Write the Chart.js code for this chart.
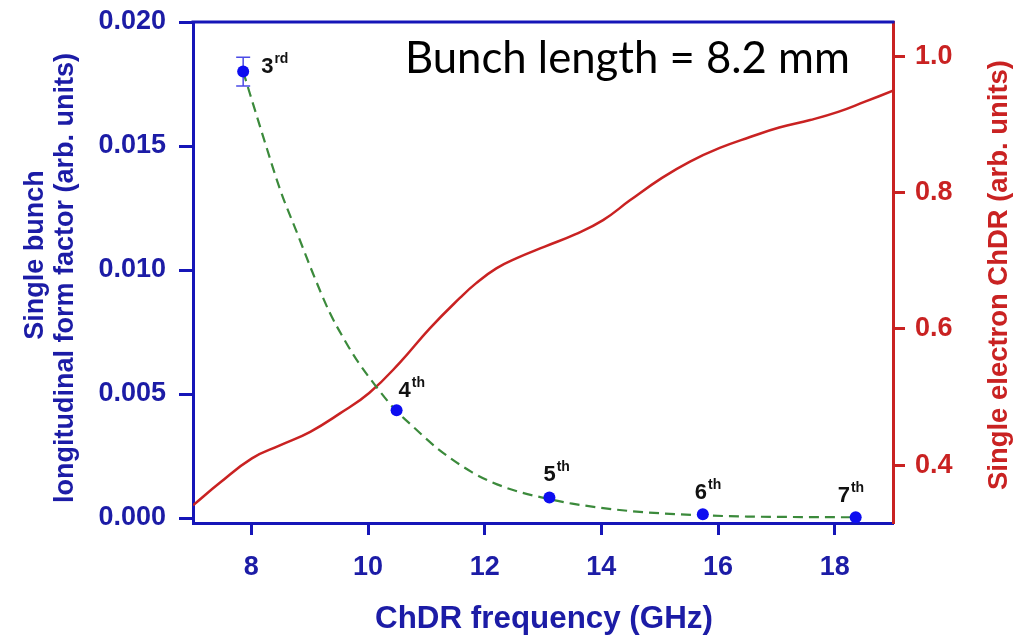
<!DOCTYPE html>
<html><head><meta charset="utf-8">
<script src="https://cdn.jsdelivr.net/npm/chart.js@4/dist/chart.umd.min.js"></script>
<style>html,body{margin:0;padding:0;background:#fff;overflow:hidden}#wrap{width:1018px;height:639px}</style>
</head><body><div id="wrap"><canvas id="c" width="1018" height="639"></canvas></div>
<script>
// ---- data ----
const xTicks = [8, 10, 12, 14, 16, 18];
const leftTicks = [0, 0.005, 0.010, 0.015, 0.020];
const rightTicks = [0.4, 0.6, 0.8, 1.0];
const harmonicNumbers = ['3', '4', '5', '6', '7'];
const harmonicSuffixes = ['rd', 'th', 'th', 'th', 'th'];
const harmonicFreq = [7.86, 10.49, 13.11, 15.74, 18.36];
const formFactor = [0.0180, 0.00435, 0.00083, 0.00015, 0.00003];
const formFactorErr = [0.00058, 0, 0, 0, 0];
const fitFreq = [7.86, 8.2, 8.5, 8.8, 9.05, 9.34, 9.63, 9.8, 10.14, 10.49, 10.65, 11.22, 11.78, 12.07, 12.5, 13.11, 13.5, 14.5, 15.74, 16.5, 17.5, 18.36];
const fitValue = [0.0180, 0.01540, 0.01320, 0.01140, 0.00990, 0.00830, 0.00705, 0.00640, 0.00530, 0.00430, 0.00395, 0.00275, 0.00185, 0.00150, 0.00112, 0.00076, 0.00058, 0.00028, 0.00011, 0.00006, 0.00004, 0.00003];
const chdrFreq = [7.00, 7.46, 8.01, 8.49, 9.01, 9.52, 10.02, 10.55, 11.06, 11.58, 11.85, 12.20, 12.55, 13.03, 13.55, 14.03, 14.49, 15.04, 15.52, 16.03, 16.55, 17.05, 17.58, 18.06, 18.52, 19.00];
const chdrValue = [0.341, 0.374, 0.410, 0.429, 0.449, 0.476, 0.506, 0.551, 0.601, 0.646, 0.667, 0.689, 0.704, 0.721, 0.739, 0.760, 0.789, 0.822, 0.846, 0.866, 0.882, 0.896, 0.907, 0.919, 0.934, 0.950];

// ---- style ----
const BLUE = '#1616b8', BLUE_TXT = '#1c1ca6', RED = '#c92222', GREEN = '#3b8a3b', DOT = '#0d0df0';
const FONT = "'Liberation Sans', Arial, sans-serif";
const labelDx = [18, 2, -6, -8, -18];
const labelDy = [1, -13, -16, -15, -15];

const zip = (a, b) => a.map((v, i) => ({x: v, y: b[i]}));

function fitSize(ctx, text, weight, family, width) {
  ctx.font = weight + ' 100px ' + family;
  return 100 * width / ctx.measureText(text).width;
}
function noPad(s) { s.paddingTop = 0; s.paddingBottom = 0; s.paddingLeft = 0; s.paddingRight = 0; }

const decor = {
  id: 'decor',
  beforeDatasetsDraw(chart) {
    const ctx = chart.ctx, xs = chart.scales.x, ys = chart.scales.y;
    ctx.save();
    ctx.strokeStyle = '#4b4be6'; ctx.lineWidth = 1.5;
    harmonicFreq.forEach((f, i) => {
      const e = formFactorErr[i]; if (!e) return;
      const px = xs.getPixelForValue(f);
      const y1 = ys.getPixelForValue(formFactor[i] + e), y2 = ys.getPixelForValue(formFactor[i] - e);
      ctx.beginPath();
      ctx.moveTo(px, y1); ctx.lineTo(px, y2);
      ctx.moveTo(px - 7, y1); ctx.lineTo(px + 7, y1);
      ctx.moveTo(px - 7, y2); ctx.lineTo(px + 7, y2);
      ctx.stroke();
    });
    ctx.restore();
  },
  afterDraw(chart) {
    const ctx = chart.ctx, a = chart.chartArea, xs = chart.scales.x, ys = chart.scales.y;
    ctx.save();
    // top frame line
    ctx.strokeStyle = BLUE; ctx.lineWidth = 3;
    ctx.beginPath(); ctx.moveTo(a.left - 1.5, a.top); ctx.lineTo(a.right + 1.5, a.top); ctx.stroke();
    // harmonic labels
    ctx.fillStyle = '#111'; ctx.textBaseline = 'alphabetic'; ctx.textAlign = 'left';
    harmonicFreq.forEach((f, i) => {
      const px = xs.getPixelForValue(f) + labelDx[i];
      const py = ys.getPixelForValue(formFactor[i]) + labelDy[i];
      ctx.font = 'bold 22px ' + FONT;
      ctx.fillText(harmonicNumbers[i], px, py);
      const w = ctx.measureText(harmonicNumbers[i]).width;
      ctx.font = 'bold 14px ' + FONT;
      ctx.fillText(harmonicSuffixes[i], px + w + 1, py - 10);
    });
    // left title (two lines)
    ctx.fillStyle = BLUE_TXT; ctx.textAlign = 'center'; ctx.textBaseline = 'middle';
    const l2 = 'longitudinal form factor (arb. units)';
    const s = fitSize(ctx, l2, 'bold', FONT, 450);
    ctx.save();
    ctx.translate(36, 255); ctx.rotate(-Math.PI / 2);
    ctx.font = 'bold ' + s + 'px ' + FONT; ctx.fillText('Single bunch', 0, 0);
    ctx.restore();
    ctx.save();
    ctx.translate(66, 278); ctx.rotate(-Math.PI / 2);
    ctx.font = 'bold ' + s + 'px ' + FONT; ctx.fillText(l2, 0, 0);
    ctx.restore();
    // x title
    const xt = 'ChDR frequency (GHz)';
    const sx = fitSize(ctx, xt, 'bold', FONT, 338);
    ctx.font = 'bold ' + sx + 'px ' + FONT;
    ctx.fillText(xt, 544, 619);
    // right title
    ctx.fillStyle = RED;
    const rt = 'Single electron ChDR (arb. units)';
    const sr = fitSize(ctx, rt, 'bold', FONT, 430);
    ctx.save();
    ctx.translate(999, 275); ctx.rotate(-Math.PI / 2);
    ctx.font = 'bold ' + sr + 'px ' + FONT; ctx.fillText(rt, 0, 0);
    ctx.restore();
    // annotation
    ctx.fillStyle = '#000'; ctx.textAlign = 'left'; ctx.textBaseline = 'alphabetic';
    const an = 'Bunch length = 8.2 mm';
    const sa = fitSize(ctx, an, 'normal', "Lato, 'Open Sans', sans-serif", 445);
    ctx.font = 'normal ' + sa + "px Lato, 'Open Sans', sans-serif";
    ctx.fillText(an, 405, 73);
    ctx.restore();
  }
};

new Chart(document.getElementById('c'), {
  type: 'scatter',
  data: {
    datasets: [
      {
        label: 'Form factor', data: zip(harmonicFreq, formFactor), yAxisID: 'y', order: 0,
        pointRadius: 6, pointBackgroundColor: DOT, pointBorderColor: DOT, pointBorderWidth: 0, showLine: false
      },
      {
        label: 'Fit', data: zip(fitFreq, fitValue), yAxisID: 'y', order: 1, showLine: true,
        pointRadius: 0, borderColor: GREEN, borderWidth: 2.2, borderDash: [10, 6], cubicInterpolationMode: 'monotone'
      },
      {
        label: 'Single electron ChDR', data: zip(chdrFreq, chdrValue), yAxisID: 'y2', order: 2, showLine: true,
        pointRadius: 0, borderColor: RED, borderWidth: 2.5, tension: 0.45
      }
    ]
  },
  options: {
    responsive: false, animation: false, devicePixelRatio: 1,
    layout: {padding: {top: 22, left: 0, right: 0, bottom: 0}},
    plugins: {legend: {display: false}, tooltip: {enabled: false}},
    scales: {
      x: {
        type: 'linear', position: 'bottom', min: 7, max: 19,
        afterBuildTicks: s => { s.ticks = xTicks.map(v => ({value: v})); },
        afterFit: s => { s.height = 116; noPad(s); },
        grid: {drawOnChartArea: false, drawTicks: true, tickLength: 12, tickWidth: 3, tickColor: BLUE},
        border: {color: BLUE, width: 3},
        ticks: {color: BLUE_TXT, font: {family: FONT, size: 27, weight: 'bold'}, padding: 16, callback: v => String(v)}
      },
      y: {
        type: 'linear', position: 'left', min: -0.0002, max: 0.020,
        afterBuildTicks: s => { s.ticks = leftTicks.map(v => ({value: v})); },
        afterFit: s => { s.width = 193; noPad(s); },
        grid: {drawOnChartArea: false, drawTicks: true, tickLength: 14, tickWidth: 3, tickColor: BLUE},
        border: {color: BLUE, width: 3},
        ticks: {color: BLUE_TXT, font: {family: FONT, size: 27, weight: 'bold'}, padding: 13, callback: v => v.toFixed(3)}
      },
      y2: {
        type: 'linear', position: 'right', min: 0.315, max: 1.051,
        afterBuildTicks: s => { s.ticks = rightTicks.map(v => ({value: v})); },
        afterFit: s => { s.width = 125; noPad(s); },
        grid: {drawOnChartArea: false, drawTicks: true, tickLength: 12, tickWidth: 3, tickColor: RED},
        border: {color: RED, width: 3},
        ticks: {color: RED, font: {family: FONT, size: 27, weight: 'bold'}, padding: 10, callback: v => v.toFixed(1)}
      }
    }
  },
  plugins: [decor]
});
</script>
</body></html>
